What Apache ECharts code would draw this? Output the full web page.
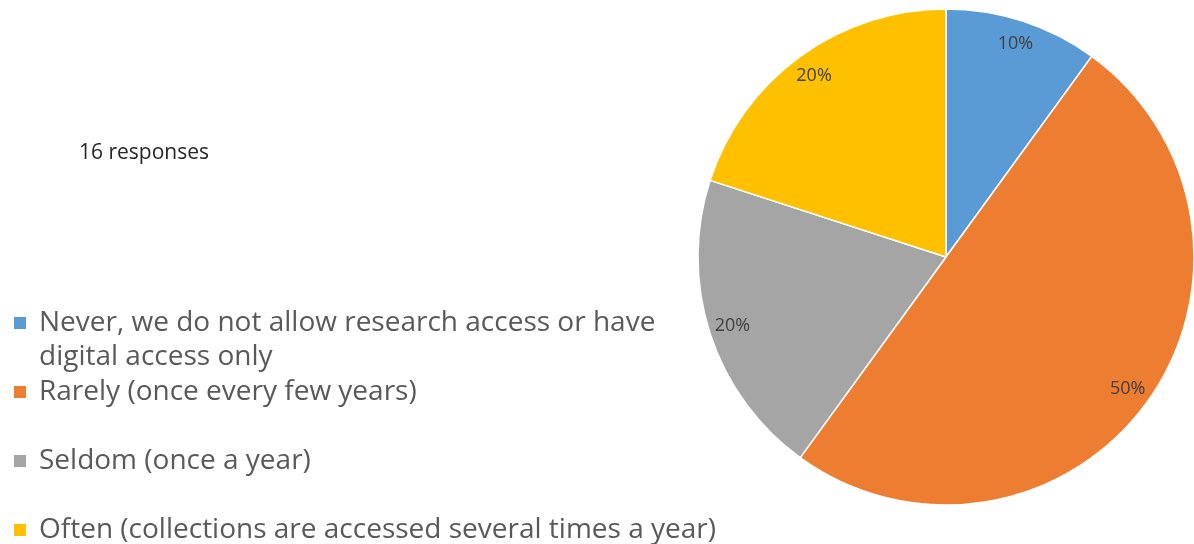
<!DOCTYPE html>
<html>
<head>
<meta charset="utf-8">
<title>Research access frequency</title>
<script src="https://cdn.jsdelivr.net/npm/echarts@6/dist/echarts.min.js"></script>
<style>
  html, body { margin: 0; padding: 0; background: #ffffff; }
  #chart { width: 1194px; height: 544px; }
</style>
</head>
<body>
<div id="chart"></div>
<script>
// Survey answers and their share of responses (%)
const categories = [
  'Never, we do not allow research access or have digital access only',
  'Rarely (once every few years)',
  'Seldom (once a year)',
  'Often (collections are accessed several times a year)'
];
const shares = [10, 50, 20, 20];
const responseCount = 16;

const colors = ['#5B9BD5', '#ED7D31', '#A5A5A5', '#FFC000'];
const FONT = '"Open Sans", sans-serif';
const LINE = 34;

const chart = echarts.init(document.getElementById('chart'), null, { renderer: 'canvas' });

const pieData = categories.map((name, i) => ({ name, value: shares[i] }));

// One legend block per answer so each row can sit at its own height.
// The wrapped first entry gets a leading blank line so its marker lines up
// with the first text line instead of the middle of the block.
const legendTops = [272, 375, 444, 513];
const legends = categories.map((name, i) => {
  const multi = i === 0;
  return {
    data: [name],
    orient: 'vertical',
    left: 12,
    top: legendTops[i],
    padding: 0,
    itemWidth: 14,
    itemHeight: 14,
    icon: 'rect',
    selectedMode: false,
    formatter: n => (multi ? '\n' : '') + n,
    textStyle: {
      fontFamily: FONT,
      fontSize: 28,
      color: '#595959',
      lineHeight: LINE,
      padding: [0, 0, 0, 7],
      width: multi ? 640 : 900,
      overflow: 'break'
    }
  };
});

chart.setOption({
  animation: false,
  color: colors,
  title: {
    text: responseCount + ' responses',
    left: 79,
    top: 143,
    padding: 0,
    textStyle: { fontFamily: FONT, fontSize: 21, fontWeight: 'normal', color: '#262626' }
  },
  legend: legends,
  series: [
    {
      type: 'pie',
      center: [946, 257],
      radius: [0, 248],
      startAngle: 90,
      clockwise: true,
      silent: true,
      itemStyle: { borderColor: '#ffffff', borderWidth: 1.5 },
      label: { show: false },
      labelLine: { show: false },
      data: pieData
    },
    {
      // transparent ring used only to place the percentage labels near the rim
      type: 'pie',
      center: [946, 257],
      radius: [195, 248],
      startAngle: 90,
      clockwise: true,
      silent: true,
      itemStyle: { color: 'rgba(0,0,0,0)', borderWidth: 0 },
      label: {
        show: true,
        position: 'inside',
        formatter: p => p.value + '%',
        fontFamily: FONT,
        fontSize: 18,
        color: '#404040'
      },
      labelLine: { show: false },
      data: pieData
    }
  ]
});
</script>
</body>
</html>
